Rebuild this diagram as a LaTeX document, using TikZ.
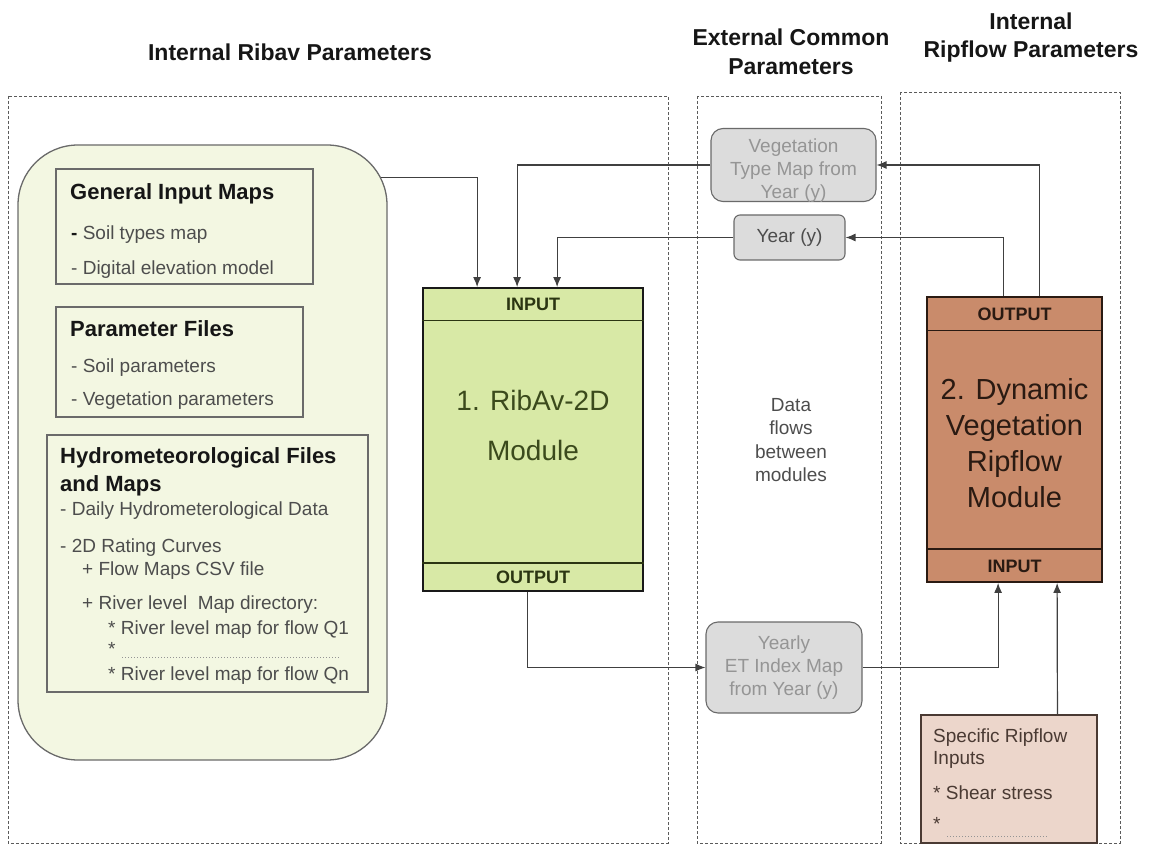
\documentclass[tikz,border=0pt]{standalone}
\usepackage{fontspec}
\setmainfont{Liberation Sans}
\usetikzlibrary{arrows.meta,calc}

\definecolor{framegray}{HTML}{5A5A5A}
\definecolor{paleleaf}{HTML}{F3F7E2}
\definecolor{boxline}{HTML}{6A6A6A}
\definecolor{bodygray}{HTML}{4D4D4D}
\definecolor{headblack}{HTML}{161616}
\definecolor{ribfill}{HTML}{D8E9A6}
\definecolor{ribtext}{HTML}{3B4A1C}
\definecolor{ribband}{HTML}{2B3512}
\definecolor{dynfill}{HTML}{C98B6B}
\definecolor{dyntext}{HTML}{2A1A12}
\definecolor{specfill}{HTML}{ECD6CB}
\definecolor{spectext}{HTML}{4A3A33}
\definecolor{sharefill}{HTML}{DCDCDC}
\definecolor{sharetext}{HTML}{959595}
\definecolor{wirecol}{HTML}{404040}

\begin{document}
\begin{tikzpicture}[x=1pt,y=-1pt,
  title/.style={font=\fontsize{23}{29}\selectfont\bfseries, text=headblack, align=center, inner sep=0pt},
  region/.style={draw=framegray, line width=0.9pt, dash pattern=on 3pt off 2pt},
  bigbox/.style={draw=boxline, fill=paleleaf, line width=1.3pt, rounded corners=60pt, inner sep=0pt},
  listbox/.style={draw=boxline, fill=paleleaf, line width=1.1pt, inner sep=0pt},
  head/.style={anchor=base west, inner sep=0pt, font=\fontsize{22}{26}\selectfont\bfseries, text=headblack},
  body/.style={anchor=base west, inner sep=0pt, font=\fontsize{19}{23}\selectfont, text=bodygray},
  ribmod/.style={draw=black!90, fill=ribfill, line width=1.8pt, inner sep=0pt},
  dynmod/.style={draw=dyntext, fill=dynfill, line width=1.8pt, inner sep=0pt},
  band/.style={font=\fontsize{18}{20}\selectfont\bfseries, inner sep=0pt},
  shared/.style={draw=boxline, fill=sharefill, line width=1.1pt, rounded corners=12pt, inner sep=0pt,
                 align=center, font=\fontsize{19}{23}\selectfont, text=sharetext},
  flow/.style={draw=wirecol, line width=1.2pt, -{Latex[length=10pt,width=8pt]}},
  dots/.style={draw=bodygray!60, line width=0.8pt, dash pattern=on 1pt off 2pt}
]
\useasboundingbox (0,0) rectangle (1149,845);

% column headings
\node[title] (ttlRibav) at (290,52) {Internal Ribav Parameters};
\node[title] (ttlCommon) at (791,52) {External Common\\Parameters};
\node[title, font=\fontsize{23}{28}\selectfont\bfseries] (ttlRipflow) at (1031,38) {Internal\\Ripflow Parameters};

% dashed column frames
\draw[region] (8,96) rectangle (668,843);
\draw[region] (697,96) rectangle (881,843);
\draw[region] (900,92) rectangle (1120,843);

% RibAv inputs
\node[bigbox, minimum width=369pt, minimum height=615pt] (inputs) at (202.5,452.5) {};

\node[listbox, minimum width=257pt, minimum height=115pt] (gim) at (184.5,226.5) {};
\node[head] (gimH) at (70,200) {General Input Maps};
\node[body] (gimA) at (71,240) {\textbf{\textcolor{headblack}{-}} Soil types map};
\node[body] (gimB) at (71,274) {- Digital elevation model};

\node[listbox, minimum width=247pt, minimum height=110pt] (pf) at (179.5,362) {};
\node[head] (pfH) at (70,336) {Parameter Files};
\node[body] (pfA) at (71,372) {- Soil parameters};
\node[body] (pfB) at (71,405) {- Vegetation parameters};

\node[listbox, minimum width=321pt, minimum height=257pt] (hyd) at (207.5,563.5) {};
\node[head] (hydH1) at (60,463) {Hydrometeorological Files};
\node[head] (hydH2) at (60,491) {and Maps};
\node[body] (hydA) at (60,515) {- Daily Hydrometerological Data};
\node[body] (hydB) at (60,552) {- 2D Rating Curves};
\node[body] (hydC) at (82,575) {+ Flow Maps CSV file};
\node[body] (hydD) at (82,609) {+ River level\ \ Map directory:};
\node[body] (hydE) at (108,634) {* River level map for flow Q1};
\node[body] (hydF) at (108,655) {*};
\draw[dots] (122,657) -- (340,657);
\node[body] (hydG) at (108,680) {* River level map for flow Qn};

% module 1
\node[ribmod, minimum width=220pt, minimum height=303pt] (rib) at (533,439.5) {};
\draw[ribband, line width=1.2pt] ($(rib.north west)+(0,33)$) -- ($(rib.north east)+(0,33)$);
\draw[ribband, line width=1.4pt] ($(rib.south west)+(0,-29)$) -- ($(rib.south east)+(0,-29)$);
\node[band, text=ribband] (ribIn) at ($(rib.north)+(0,17)$) {INPUT};
\node[band, text=ribband] (ribOut) at ($(rib.south)+(0,-15)$) {OUTPUT};
\node[align=center, inner sep=0pt, text=ribtext, font=\fontsize{28}{50}\selectfont] (ribName) at (533,425) {1. RibAv-2D\\Module};

% module 2
\node[dynmod, minimum width=175pt, minimum height=285pt] (dyn) at (1014.5,439.5) {};
\draw[dyntext, line width=1.2pt] ($(dyn.north west)+(0,34)$) -- ($(dyn.north east)+(0,34)$);
\draw[dyntext, line width=1.2pt] ($(dyn.south west)+(0,-34)$) -- ($(dyn.south east)+(0,-34)$);
\node[band, text=dyntext] (dynOut) at ($(dyn.north)+(0,18)$) {OUTPUT};
\node[band, text=dyntext] (dynIn) at ($(dyn.south)+(0,-17)$) {INPUT};
\node[align=center, inner sep=0pt, text=dyntext, font=\fontsize{29}{36}\selectfont] (dynName) at (1014.5,443) {2. Dynamic\\Vegetation\\Ripflow\\Module};

% shared data
\node[shared, minimum width=165pt, minimum height=73pt] (veg) at (793.5,165) {};
\node[align=center, inner sep=0pt, text=sharetext, font=\fontsize{19}{23}\selectfont] (vegTxt) at (793.5,171) {Vegetation\\Type Map from\\Year (y)};
\node[shared, rounded corners=6pt, text=bodygray, minimum width=111pt, minimum height=45pt] (year) at (789.5,237.5) {Year (y)};
\node[shared, minimum width=156pt, minimum height=91pt] (et) at (784,667.5) {Yearly\\ET Index Map\\from Year (y)};
\node[align=center, inner sep=0pt, text=bodygray, font=\fontsize{19}{23.5}\selectfont] (note) at (791,440) {Data\\flows\\between\\modules};

% Ripflow specific inputs
\node[draw=spectext, fill=specfill, line width=1.1pt, inner sep=0pt, minimum width=176pt, minimum height=128pt] (spec) at (1009,779) {};
\node[body, text=spectext] (specA) at (933,742) {Specific Ripflow};
\node[body, text=spectext] (specB) at (933,764) {Inputs};
\node[body, text=spectext] (specC) at (933,799) {* Shear stress};
\node[body, text=spectext] (specD) at (933,830) {*};
\draw[dots] (947,836) -- (1048,836);

% data flows
\draw[flow] ($(inputs.north east)+(-7,33)$) -| ($(rib.north west)+(55,0)$);
\draw[flow] (veg.west) -| ($(rib.north west)+(95,0)$);
\draw[flow] (year.west) -| ($(rib.north west)+(135,0)$);
\draw[flow] ($(dyn.north west)+(113,0)$) |- (veg.east);
\draw[flow] ($(dyn.north west)+(77,0)$) |- (year.east);
\draw[flow] ($(rib.south west)+(105,0)$) |- (et.west);
\draw[flow] (et.east) -| ($(dyn.south west)+(72,0)$);
\draw[flow] ($(spec.north west)+(137,0)$) -- ($(dyn.south west)+(131,0)$);
\end{tikzpicture}
\end{document}
